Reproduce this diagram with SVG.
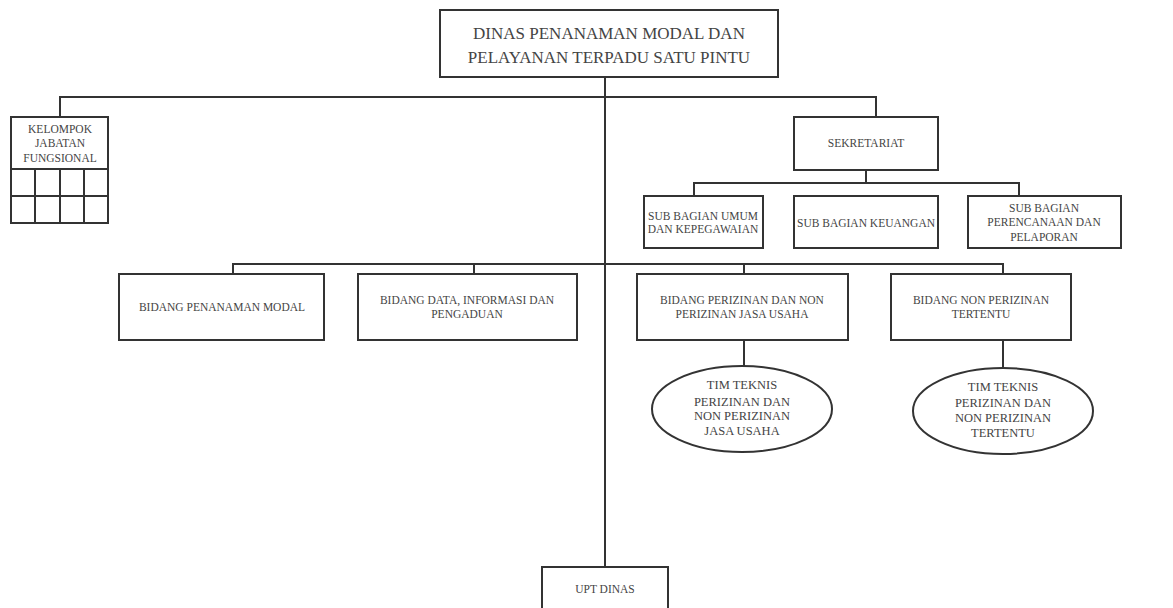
<svg xmlns="http://www.w3.org/2000/svg" width="1173" height="608" viewBox="0 0 1173 608">
<style>
.b{fill:#fff;stroke:#333;stroke-width:2}
.c{fill:none;stroke:#333;stroke-width:2}
text{font-family:"Liberation Serif","Times New Roman",serif;fill:#444;text-anchor:middle}
.s{font-size:11.5px}
.e{font-size:12.5px}
.t{font-size:17px}
</style>
<rect width="1173" height="608" fill="#fff"/>
<g id="connectors">
<path class="c" d="M605 77V567"/>
<path class="c" d="M60 117V97H876V117"/>
<path class="c" d="M866 170V183M694 196V183H1019V196"/>
<path class="c" d="M233 274V264H1003V274M474 264V274M744 264V274"/>
<path class="c" d="M744 340V366M1003 340V368"/>
</g>
<g id="dinas">
<rect class="b" x="440" y="10" width="338" height="67"/>
<text class="t" x="609" y="39">DINAS PENANAMAN MODAL DAN</text>
<text class="t" x="609" y="63">PELAYANAN TERPADU SATU PINTU</text>
</g>
<g id="kelompok">
<rect class="b" x="11" y="117" width="97" height="106"/>
<path class="c" d="M11 169H108M11 196H108M35 169V223M60 169V223M84 169V223"/>
<text class="s" x="60" y="133">KELOMPOK</text>
<text class="s" x="60" y="147">JABATAN</text>
<text class="s" x="60" y="162">FUNGSIONAL</text>
</g>
<g id="sekretariat">
<rect class="b" x="794" y="117" width="144" height="53"/>
<text class="s" x="866" y="147">SEKRETARIAT</text>
</g>
<g id="subumum">
<rect class="b" x="644" y="196" width="119" height="52"/>
<text class="s" x="703" y="220">SUB BAGIAN UMUM</text>
<text class="s" x="703" y="233">DAN KEPEGAWAIAN</text>
</g>
<g id="subkeuangan">
<rect class="b" x="794" y="196" width="144" height="52"/>
<text class="s" x="866" y="227">SUB BAGIAN KEUANGAN</text>
</g>
<g id="subperencanaan">
<rect class="b" x="968" y="196" width="153" height="52"/>
<text class="s" x="1044" y="212">SUB BAGIAN</text>
<text class="s" x="1044" y="226">PERENCANAAN DAN</text>
<text class="s" x="1044" y="241">PELAPORAN</text>
</g>
<g id="bidang1">
<rect class="b" x="119" y="274" width="205" height="66"/>
<text class="s" x="222" y="311">BIDANG PENANAMAN MODAL</text>
</g>
<g id="bidang2">
<rect class="b" x="358" y="274" width="219" height="66"/>
<text class="s" x="467" y="304">BIDANG DATA, INFORMASI DAN</text>
<text class="s" x="467" y="318">PENGADUAN</text>
</g>
<g id="bidang3">
<rect class="b" x="637" y="274" width="211" height="66"/>
<text class="s" x="742" y="304">BIDANG PERIZINAN DAN NON</text>
<text class="s" x="742" y="318">PERIZINAN JASA USAHA</text>
</g>
<g id="bidang4">
<rect class="b" x="891" y="274" width="180" height="66"/>
<text class="s" x="981" y="304">BIDANG NON PERIZINAN</text>
<text class="s" x="981" y="318">TERTENTU</text>
</g>
<g id="tim1">
<ellipse class="b" cx="742" cy="409" rx="90" ry="43"/>
<text class="e" x="742" y="389">TIM TEKNIS</text>
<text class="e" x="742" y="406">PERIZINAN DAN</text>
<text class="e" x="742" y="420">NON PERIZINAN</text>
<text class="e" x="742" y="435">JASA USAHA</text>
</g>
<g id="tim2">
<ellipse class="b" cx="1003" cy="411" rx="90" ry="43"/>
<text class="e" x="1003" y="391">TIM TEKNIS</text>
<text class="e" x="1003" y="407">PERIZINAN DAN</text>
<text class="e" x="1003" y="422">NON PERIZINAN</text>
<text class="e" x="1003" y="437">TERTENTU</text>
</g>
<g id="upt">
<rect class="b" x="542" y="567" width="126" height="60"/>
<text class="s" x="605" y="593">UPT DINAS</text>
</g>
</svg>
